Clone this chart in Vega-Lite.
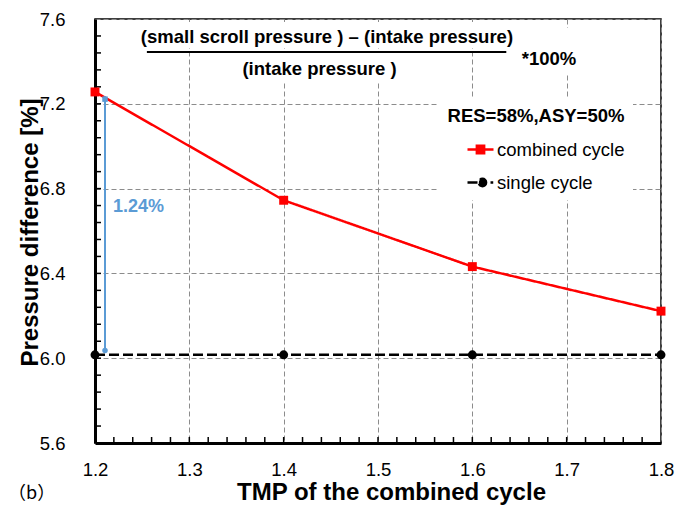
{
  "$schema": "https://vega.github.io/schema/vega-lite/v6.json",
  "width": 566,
  "height": 424,
  "autosize": "none",
  "padding": {"left": 95, "top": 19, "right": 31, "bottom": 63},
  "background": "white",
  "config": {
    "view": {"stroke": "black", "strokeWidth": 1.5},
    "font": "Liberation Sans",
    "axis": {
      "domainColor": "black",
      "domainWidth": 3,
      "ticks": false,
      "labelFont": "Liberation Sans",
      "labelFontSize": 18.5,
      "labelColor": "black",
      "labelOverlap": false,
      "labelBound": false,
      "labelFlush": false,
      "titleFont": "Liberation Sans",
      "titleFontSize": 24,
      "titleFontWeight": "bold",
      "titleColor": "black",
      "gridColor": "#8c8c8c",
      "gridDash": [5, 3],
      "gridWidth": 1
    }
  },
  "datasets": {
    "series": [
      {"tmp": 1.2, "value": 7.256, "series": "combined cycle"},
      {"tmp": 1.4, "value": 6.745, "series": "combined cycle"},
      {"tmp": 1.6, "value": 6.432, "series": "combined cycle"},
      {"tmp": 1.8, "value": 6.222, "series": "combined cycle"},
      {"tmp": 1.2, "value": 6.016, "series": "single cycle"},
      {"tmp": 1.4, "value": 6.016, "series": "single cycle"},
      {"tmp": 1.6, "value": 6.016, "series": "single cycle"},
      {"tmp": 1.8, "value": 6.016, "series": "single cycle"}
    ],
    "xticks": [
      {"v": 1.22}, {"v": 1.24}, {"v": 1.26}, {"v": 1.28}, {"v": 1.3}, {"v": 1.32}, {"v": 1.34}, {"v": 1.36}, {"v": 1.38}, {"v": 1.4},
      {"v": 1.42}, {"v": 1.44}, {"v": 1.46}, {"v": 1.48}, {"v": 1.5}, {"v": 1.52}, {"v": 1.54}, {"v": 1.56}, {"v": 1.58}, {"v": 1.6},
      {"v": 1.62}, {"v": 1.64}, {"v": 1.66}, {"v": 1.68}, {"v": 1.7}, {"v": 1.72}, {"v": 1.74}, {"v": 1.76}, {"v": 1.78}
    ],
    "yticks": [
      {"v": 5.68}, {"v": 5.76}, {"v": 5.84}, {"v": 5.92}, {"v": 6.0}, {"v": 6.08}, {"v": 6.16}, {"v": 6.24}, {"v": 6.32}, {"v": 6.4},
      {"v": 6.48}, {"v": 6.56}, {"v": 6.64}, {"v": 6.72}, {"v": 6.8}, {"v": 6.88}, {"v": 6.96}, {"v": 7.04}, {"v": 7.12}, {"v": 7.2},
      {"v": 7.28}, {"v": 7.36}, {"v": 7.44}, {"v": 7.52}
    ]
  },
  "layer": [
    {
      "data": {"values": [
        {"x": 1.2371, "x2": 1.6505, "y": 7.586, "y2": 7.463},
        {"x": 1.3484, "x2": 1.5286, "y": 7.44, "y2": 7.298},
        {"x": 1.6452, "x2": 1.7194, "y": 7.557, "y2": 7.345}
      ]},
      "mark": {"type": "rect", "color": "white", "opacity": 1},
      "encoding": {
        "x": {
          "field": "x", "type": "quantitative",
          "scale": {"domain": [1.2, 1.8], "nice": false, "zero": false},
          "axis": {
            "title": "TMP of the combined cycle",
            "values": [1.2, 1.3, 1.4, 1.5, 1.6, 1.7, 1.8],
            "format": ".1f",
            "labelPadding": 17,
            "titleX": 296,
            "titleY": 49,
            "titleBaseline": "middle",
            "titleAlign": "center"
          }
        },
        "x2": {"field": "x2"},
        "y": {
          "field": "y", "type": "quantitative",
          "scale": {"domain": [5.6, 7.6], "nice": false, "zero": false},
          "axis": {
            "title": "Pressure difference [%]",
            "values": [5.6, 6.0, 6.4, 6.8, 7.2, 7.6],
            "format": ".1f",
            "labelPadding": 30,
            "titleX": -65,
            "titleY": 213,
            "titleAngle": -90,
            "titleBaseline": "middle",
            "titleAlign": "center"
          }
        },
        "y2": {"field": "y2"}
      }
    },
    {
      "data": {"name": "xticks"},
      "mark": {"type": "tick", "orient": "vertical", "size": 6, "thickness": 1.5, "color": "black", "opacity": 1, "yOffset": -3},
      "encoding": {
        "x": {"field": "v", "type": "quantitative"},
        "y": {"datum": 5.6, "type": "quantitative"}
      }
    },
    {
      "data": {"name": "yticks"},
      "mark": {"type": "tick", "orient": "horizontal", "size": 6, "thickness": 1.5, "color": "black", "opacity": 1, "xOffset": 3},
      "encoding": {
        "y": {"field": "v", "type": "quantitative"},
        "x": {"datum": 1.2, "type": "quantitative"}
      }
    },
    {
      "data": {"name": "series"},
      "mark": {"type": "line", "strokeWidth": 2.5},
      "encoding": {
        "x": {"field": "tmp", "type": "quantitative"},
        "y": {"field": "value", "type": "quantitative"},
        "color": {
          "field": "series", "type": "nominal",
          "scale": {"domain": ["combined cycle", "single cycle"], "range": ["#ff0000", "#000000"]},
          "legend": {
            "orient": "none",
            "legendX": 344,
            "legendY": 80,
            "title": "RES=58%,ASY=50%",
            "titleFont": "Liberation Sans",
            "titleFontSize": 18.5,
            "titleFontWeight": "bold",
            "titleColor": "black",
            "titleAnchor": "middle",
            "titlePadding": 9.5,
            "labelFont": "Liberation Sans",
            "labelFontSize": 18.5,
            "labelColor": "black",
            "labelLimit": 300,
            "labelOffset": 2,
            "symbolOffset": 19,
            "symbolSize": 676,
            "symbolStrokeWidth": 2.5,
            "rowPadding": 9,
            "padding": 8,
            "fillColor": "white",
            "strokeColor": null,
            "encode": {
              "symbols": {
                "update": {
                  "shape": {"signal": "datum.value === 'combined cycle' ? 'M-1,0H1M-0.28,-0.28H0.28V0.28H-0.28Z' : 'M-1,0H-0.13M0.43,0A0.28,0.28 0 1,1 -0.13,0A0.28,0.28 0 1,1 0.43,0M0.77,0H0.98'"},
                  "fill": {"signal": "datum.value === 'combined cycle' ? '#ff0000' : '#000000'"},
                  "stroke": {"signal": "datum.value === 'combined cycle' ? '#ff0000' : '#000000'"},
                  "strokeWidth": {"value": 2.5},
                  "opacity": {"value": 1},
                  "fillOpacity": {"value": 1},
                  "strokeOpacity": {"value": 1}
                }
              }
            }
          }
        },
        "strokeDash": {
          "field": "series", "type": "nominal",
          "scale": {"domain": ["combined cycle", "single cycle"], "range": [[1, 0], [10, 4]]},
          "legend": null
        }
      }
    },
    {
      "data": {"name": "series"},
      "mark": {"type": "point", "filled": true, "size": 80, "opacity": 1},
      "encoding": {
        "x": {"field": "tmp", "type": "quantitative"},
        "y": {"field": "value", "type": "quantitative"},
        "color": {"field": "series", "type": "nominal"},
        "shape": {
          "field": "series", "type": "nominal",
          "scale": {"domain": ["combined cycle", "single cycle"], "range": ["square", "circle"]},
          "legend": null
        }
      }
    },
    {
      "data": {"values": [{"x": 1.2106, "y": 7.235, "y2": 6.03}]},
      "mark": {"type": "rule", "color": "#5b9bd5", "strokeWidth": 2},
      "encoding": {
        "x": {"field": "x", "type": "quantitative"},
        "y": {"field": "y", "type": "quantitative"},
        "y2": {"field": "y2"}
      }
    },
    {
      "data": {"values": [
        {"x": 1.2106, "y": 7.222, "dir": "up"},
        {"x": 1.2106, "y": 6.036, "dir": "down"}
      ]},
      "mark": {"type": "point", "filled": true, "color": "#5b9bd5", "size": 30, "opacity": 1},
      "encoding": {
        "x": {"field": "x", "type": "quantitative"},
        "y": {"field": "y", "type": "quantitative"},
        "shape": {
          "field": "dir", "type": "nominal",
          "scale": {"domain": ["up", "down"], "range": ["triangle-up", "triangle-down"]},
          "legend": null
        }
      }
    },
    {
      "data": {"values": [{"x": 1.2191, "y": 6.713, "t": "1.24%"}]},
      "mark": {"type": "text", "align": "left", "baseline": "middle", "font": "Liberation Sans", "fontSize": 18, "fontWeight": "bold", "color": "#5b9bd5"},
      "encoding": {
        "x": {"field": "x", "type": "quantitative"},
        "y": {"field": "y", "type": "quantitative"},
        "text": {"field": "t"}
      }
    },
    {
      "data": {"values": [
        {"x": 1.4459, "y": 7.515, "t": "(small scroll pressure ) – (intake pressure)"},
        {"x": 1.438, "y": 7.364, "t": "(intake pressure )"},
        {"x": 1.6813, "y": 7.411, "t": "*100%"}
      ]},
      "mark": {"type": "text", "align": "center", "baseline": "middle", "font": "Liberation Sans", "fontSize": 18.5, "fontWeight": "bold", "color": "black"},
      "encoding": {
        "x": {"field": "x", "type": "quantitative"},
        "y": {"field": "y", "type": "quantitative"},
        "text": {"field": "t"}
      }
    },
    {
      "data": {"values": [{"x": 1.255, "x2": 1.636, "y": 7.444}]},
      "mark": {"type": "rule", "color": "black", "strokeWidth": 2},
      "encoding": {
        "x": {"field": "x", "type": "quantitative"},
        "x2": {"field": "x2"},
        "y": {"field": "y", "type": "quantitative"}
      }
    },
    {
      "data": {"values": [{"x": 1.1078, "y": 5.36, "t": "（b）"}]},
      "mark": {"type": "text", "align": "left", "baseline": "middle", "font": "Noto Sans CJK SC", "fontSize": 18, "color": "black"},
      "encoding": {
        "x": {"field": "x", "type": "quantitative"},
        "y": {"field": "y", "type": "quantitative"},
        "text": {"field": "t"}
      }
    }
  ]
}
